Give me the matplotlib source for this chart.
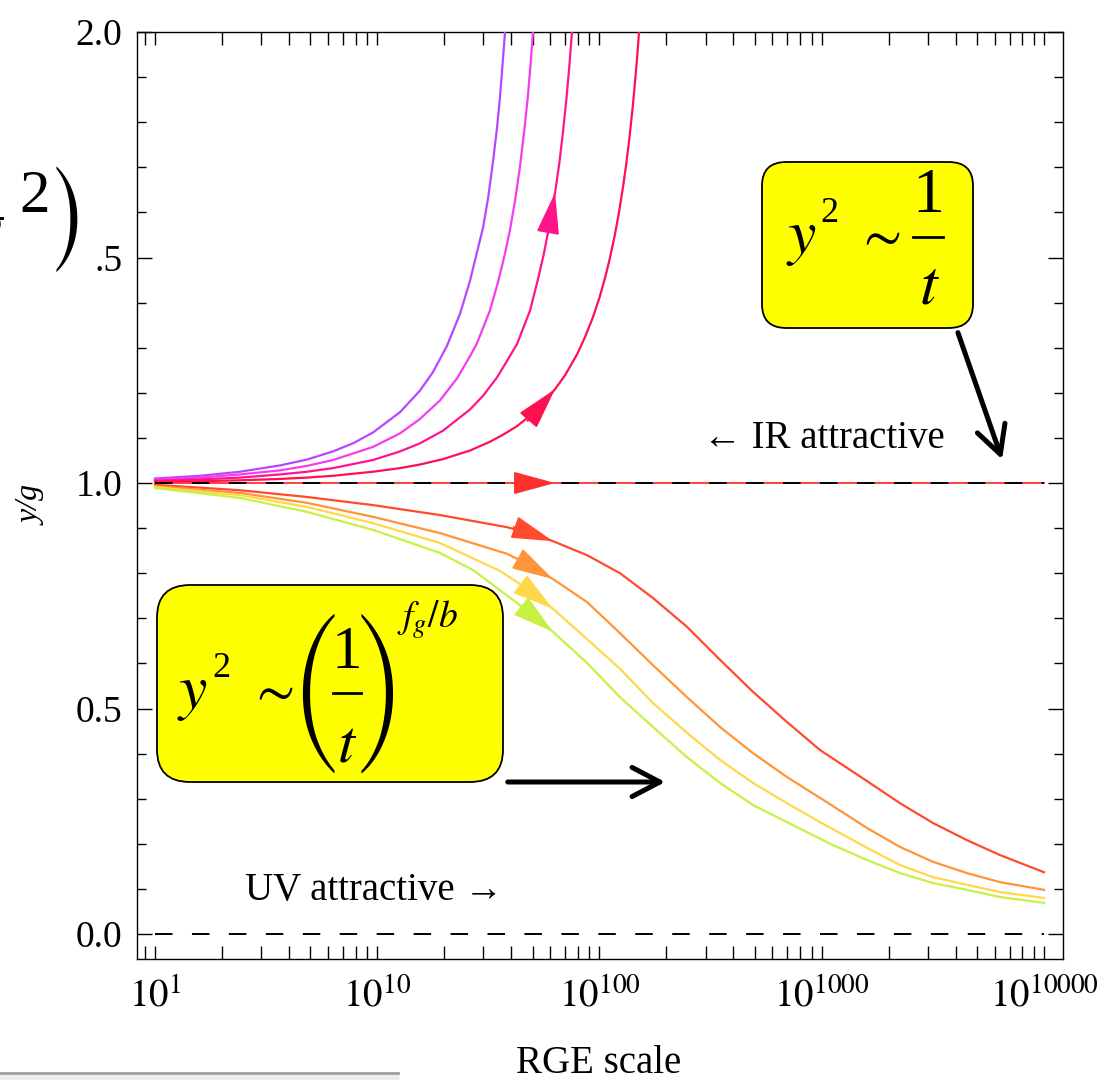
import numpy as np
import matplotlib
matplotlib.use('Agg')
import matplotlib.pyplot as plt
from matplotlib.patches import FancyBboxPatch, FancyArrowPatch, Rectangle
from matplotlib.lines import Line2D
from matplotlib.ticker import FixedLocator

# x values are the exponent of the RGE scale (scale = 10**exp), y is y/g
up1_exp = [1.0, 1.594, 2.413, 3.651, 4.83, 6.32, 7.78, 9.57, 12.66, 15.57, 17.82, 20.59, 23.57,
           26.14, 28.12, 29.92, 31.5, 33.18, 34.58, 35.67, 36.79, 37.58]
up1_y = [1.010, 1.016, 1.025, 1.039, 1.052, 1.070, 1.088, 1.112, 1.157, 1.205, 1.246, 1.304, 1.375,
         1.448, 1.512, 1.566, 1.630, 1.712, 1.787, 1.855, 1.940, 2.0]

up2_exp = [1.0, 1.594, 2.413, 3.651, 4.83, 6.32, 9.57, 12.66, 15.57, 19.15, 22.85, 26.14, 28.12,
           32.17, 34.93, 37.58, 39.55, 41.7, 43.87, 45.9, 47.68, 49.0, 50.23]
up2_y = [1.008, 1.012, 1.019, 1.028, 1.038, 1.051, 1.080, 1.110, 1.142, 1.183, 1.232, 1.281, 1.310,
         1.383, 1.445, 1.509, 1.561, 1.626, 1.701, 1.782, 1.860, 1.930, 2.0]

up3_exp = [1.0, 1.594, 2.413, 3.651, 4.83, 6.32, 9.57, 12.66, 15.57, 19.77, 26.14, 30.0, 34.58,
           38.5, 42.54, 48.67, 52.88, 56.0, 58.64, 63.1, 66.0, 68.5, 71.0, 73.0, 75.2]
up3_y = [1.005, 1.008, 1.012, 1.019, 1.025, 1.033, 1.051, 1.070, 1.088, 1.116, 1.163, 1.194, 1.234,
         1.272, 1.308, 1.382, 1.452, 1.505, 1.555, 1.644, 1.710, 1.778, 1.852, 1.918, 2.0]

up4_exp = [1.0, 1.594, 2.413, 3.651, 4.83, 6.32, 9.57, 12.66, 15.57, 19.77, 26.14, 32.0, 36.79,
           42.54, 48.67, 55.0, 63.1, 70.0, 79.2, 86.0, 93.5, 100.0, 105.8, 111.0, 117.0, 122.0,
           127.6, 132.0, 136.5, 141.5, 145.0, 148.0, 150.6]
up4_y = [1.003, 1.004, 1.006, 1.009, 1.012, 1.016, 1.025, 1.033, 1.041, 1.053, 1.072, 1.091, 1.107,
         1.126, 1.149, 1.174, 1.208, 1.239, 1.285, 1.323, 1.368, 1.411, 1.454, 1.495, 1.548, 1.596,
         1.656, 1.708, 1.767, 1.840, 1.897, 1.950, 2.0]

flat_exp = [1.0, 63.1, 10000.0]
flat_y = [1.0, 1.0, 1.0]

low1_exp = [1.0, 2.413, 4.83, 9.57, 19.15, 38.37, 50.23, 61.8, 87.9, 123.7, 174.1, 247.7, 348.6,
            490.6, 697.7, 982, 1600, 2251, 3170, 4508, 6346, 10000]
low1_y = [0.996, 0.984, 0.969, 0.951, 0.929, 0.902, 0.887, 0.871, 0.840, 0.800, 0.745, 0.681, 0.608,
          0.537, 0.470, 0.408, 0.339, 0.290, 0.246, 0.208, 0.175, 0.137]

low2_exp = [1.0, 2.413, 4.83, 9.57, 19.15, 38.37, 43.87, 61.8, 87.9, 123.7, 174.1, 247.7, 348.6,
            490.6, 697.7, 982, 1600, 2251, 3170, 4508, 6346, 10000]
low2_y = [0.993, 0.978, 0.956, 0.925, 0.889, 0.843, 0.829, 0.787, 0.736, 0.667, 0.596, 0.525, 0.459,
          0.401, 0.348, 0.302, 0.235, 0.193, 0.160, 0.135, 0.115, 0.098]

low3_exp = [1.0, 2.413, 4.83, 9.57, 19.15, 35.67, 43.87, 61.8, 87.9, 123.7, 174.1, 247.7, 348.6,
            490.6, 697.7, 982, 1600, 2251, 3170, 4508, 6346, 10000]
low3_y = [0.991, 0.973, 0.947, 0.911, 0.867, 0.805, 0.776, 0.721, 0.654, 0.588, 0.512, 0.446, 0.386,
          0.335, 0.290, 0.248, 0.191, 0.153, 0.126, 0.109, 0.093, 0.080]

low4_exp = [1.0, 2.413, 4.83, 9.57, 19.15, 26.98, 43.87, 61.8, 87.9, 123.7, 174.1, 247.7, 348.6,
            490.6, 697.7, 1124, 1600, 2251, 3170, 4508, 6346, 10000]
low4_y = [0.989, 0.967, 0.936, 0.896, 0.845, 0.807, 0.729, 0.670, 0.601, 0.525, 0.459, 0.392, 0.335,
          0.286, 0.248, 0.197, 0.164, 0.135, 0.113, 0.098, 0.082, 0.069]

ref_levels = [0.0, 1.0]
arrow_at = 62.0  # flow arrows sit near 10^62

x_major = [1, 10, 100, 1000, 10000]
x_labels = [r'$10^{%d}$' % k for k in x_major]
y_major = [0.0, 0.5, 1.0, 1.5, 2.0]
y_labels = ['0.0', '0.5', '1.0', '.5', '2.0']  # the "1" of 1.5 is hidden under the slide text

plt.rcParams['font.family'] = ['Liberation Serif', 'DejaVu Serif']
plt.rcParams['mathtext.fontset'] = 'stix'

W, H = 1104, 1080
def fx(px):
    return px / W
def fy(py):
    return 1 - py / H

fig = plt.figure(figsize=(11.04, 10.8), dpi=100)
ax = fig.add_axes([fx(137), fy(959), (1063 - 137) / W, (959 - 32) / H])

curves = [
    (up1_exp, up1_y, '#b946ff'),
    (up2_exp, up2_y, '#f43cf0'),
    (up3_exp, up3_y, '#ff148c'),
    (up4_exp, up4_y, '#ff1050'),
    (flat_exp, flat_y, '#ff3030'),
    (low1_exp, low1_y, '#ff4a2e'),
    (low2_exp, low2_y, '#ff9538'),
    (low3_exp, low3_y, '#ffd84a'),
    (low4_exp, low4_y, '#c6f244'),
]

ax.set_xscale('log')
ax.set_xlim(0.83, 12178)
ax.set_ylim(-0.0554, 2.0)

for ex, yy, c in curves:
    ax.plot(ex, yy, color=c, lw=1.6 if ex is not flat_exp else 1.3, zorder=3)

# black dashed reference lines at y/g = 0 and 1
ax.hlines(ref_levels, flat_exp[0], flat_exp[-1], colors='k', lw=1.4,
          linestyles=[(0, (9.0, 10.0))], zorder=4)

# flow direction arrowheads, pointing along the last drawn segment
for ex, yy, c in curves:
    if max(ex) <= arrow_at:
        continue
    i = int(np.argmin(np.abs(np.log(np.array(ex)) - np.log(arrow_at))))
    p1 = ax.transData.transform((ex[i], yy[i]))
    p0 = ax.transData.transform((ex[i - 1], yy[i - 1]))
    d = (p0 - p1) / np.hypot(*(p0 - p1))
    tail = ax.transData.inverted().transform(p1 + d * 42)
    ax.annotate('', xy=(ex[i], yy[i]), xytext=tuple(tail),
                arrowprops=dict(arrowstyle='-|>,head_length=1.1,head_width=0.3',
                                mutation_scale=24, color=c, lw=1.3,
                                shrinkA=0, shrinkB=0),
                zorder=5)

ax.set_xticks(x_major, x_labels)
x_minor = [0.9] + [k * 10 ** d for d in range(4) for k in range(2, 10)]
ax.xaxis.set_minor_locator(FixedLocator(x_minor))
ax.set_yticks(y_major, y_labels)
ax.yaxis.set_minor_locator(FixedLocator(np.arange(0, 2.01, 0.1)))

ax.tick_params(axis='both', which='both', direction='in', top=True, right=True, width=1.0)
ax.tick_params(axis='x', which='both', length=9.4, labelsize=28, pad=14)
ax.tick_params(axis='y', which='major', length=10.8, labelsize=27, pad=10.5)
ax.tick_params(axis='y', which='minor', length=6.5)
for sp in ax.spines.values():
    sp.set_linewidth(1.0)

fig.text(fx(32), fy(505), 'y/g', rotation=90, style='italic', fontsize=23,
         ha='center', va='center')
fig.text(fx(599), fy(1073), 'RGE scale', fontsize=28, ha='center', va='baseline')

fig.text(fx(703), fy(448), '\u2190 IR attractive', fontsize=28, ha='left', va='baseline')
fig.text(fx(245), fy(900), 'UV attractive \u2192', fontsize=28, ha='left', va='baseline')

# yellow callout, upper right: y^2 ~ 1/t
box1 = FancyBboxPatch((fx(762), fy(328)), (973 - 762) / W, (328 - 162) / H,
                      boxstyle='round,pad=0,rounding_size=0.022',
                      transform=fig.transFigure, fc='#ffff00', ec='k', lw=1.3, zorder=6)
fig.add_artist(box1)
fig.text(fx(786), fy(253), r'$y$', fontsize=46, ha='left', va='baseline', zorder=7)
fig.text(fx(820), fy(222), '2', fontsize=26, ha='left', va='baseline', zorder=7)
fig.text(fx(878), fy(237), r'$\sim$', fontsize=40, ha='center', va='center', zorder=7)
fig.text(fx(928), fy(212), '1', fontsize=46, ha='center', va='baseline', zorder=7)
fig.add_artist(Line2D([fx(913), fx(943)], [fy(237), fy(237)], color='k', lw=2.0, zorder=7))
fig.text(fx(929), fy(303), r'$t$', fontsize=46, ha='center', va='baseline', zorder=7)

# yellow callout, lower left: y^2 ~ (1/t)^(f_g/b)
box2 = FancyBboxPatch((fx(157), fy(782)), (503 - 157) / W, (782 - 585) / H,
                      boxstyle='round,pad=0,rounding_size=0.03',
                      transform=fig.transFigure, fc='#ffff00', ec='k', lw=1.3, zorder=6)
fig.add_artist(box2)
fig.text(fx(177), fy(708), r'$y$', fontsize=46, ha='left', va='baseline', zorder=7)
fig.text(fx(212), fy(677), '2', fontsize=26, ha='left', va='baseline', zorder=7)
fig.text(fx(271), fy(692), r'$\sim$', fontsize=40, ha='center', va='center', zorder=7)
fig.text(fx(315), fy(693), '(', family='STIXSizeThreeSym', fontsize=47,
         ha='center', va='center', zorder=7)
fig.text(fx(380), fy(693), ')', family='STIXSizeThreeSym', fontsize=47,
         ha='center', va='center', zorder=7)
fig.text(fx(347), fy(668), '1', fontsize=44, ha='center', va='baseline', zorder=7)
fig.add_artist(Line2D([fx(333), fx(361)], [fy(693), fy(693)], color='k', lw=2.0, zorder=7))
fig.text(fx(347), fy(762), r'$t$', fontsize=44, ha='center', va='baseline', zorder=7)
fig.text(fx(397), fy(628), r'$f_g/b$', fontsize=27, ha='left', va='baseline', zorder=7)

for a, b in [((957, 330), (1003, 462)), ((505, 782), (668, 782))]:
    arr = FancyArrowPatch((fx(a[0]), fy(a[1])), (fx(b[0]), fy(b[1])),
                          transform=fig.transFigure,
                          arrowstyle='->,head_length=0.8,head_width=0.42',
                          mutation_scale=25, lw=3.6, color='k',
                          capstyle='round', joinstyle='round', zorder=7)
    fig.add_artist(arr)

# leftovers of the slide around the plot: the end of "g^2)" and a rule at the bottom
fig.text(fx(5), fy(250), r'$g$', fontsize=58, ha='right', va='baseline')
fig.text(fx(19), fy(212), '2', fontsize=44, ha='left', va='baseline')
fig.text(fx(89), fy(258), ')', family='STIXSizeOneSym', fontsize=62, ha='right', va='baseline')
fig.add_artist(Rectangle((0, 0), fx(398), (1080 - 1075) / H, transform=fig.transFigure,
                         color='#ececec', zorder=1))
fig.add_artist(Line2D([0, fx(398)], [fy(1073), fy(1073)], color='#a0a0a0', lw=2.0))

fig.savefig('out.png', dpi=100)
